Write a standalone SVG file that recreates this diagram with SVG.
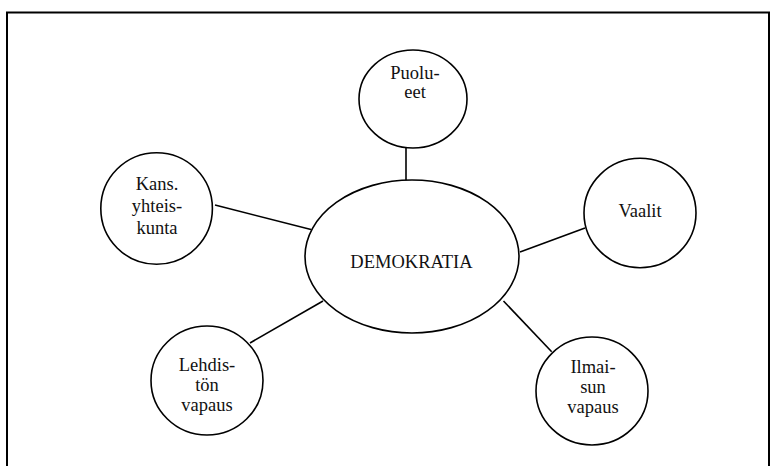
<svg xmlns="http://www.w3.org/2000/svg" width="771" height="466" viewBox="0 0 771 466">
<style>
.node ellipse{fill:#fff;stroke:#000;stroke-width:1.6}
.conn line{stroke:#000;stroke-width:1.6}
text{font-family:"Liberation Serif","Times New Roman",Tinos,"DejaVu Serif",serif;font-size:18.5px;fill:#111;text-anchor:middle}
</style>
<rect x="0" y="0" width="771" height="466" fill="#fff"/>
<rect id="frame" x="7" y="12.5" width="762" height="470" fill="none" stroke="#000" stroke-width="2"/>
<g id="connectors" class="conn">
<line x1="406" y1="142" x2="406" y2="183"/>
<line x1="215" y1="205" x2="311" y2="229.5"/>
<line x1="520" y1="252" x2="585" y2="228"/>
<line x1="323" y1="301" x2="250" y2="343"/>
<line x1="503.5" y1="301" x2="551.7" y2="351.7"/>
</g>
<g id="demokratia" class="node">
<ellipse cx="412" cy="256.5" rx="107" ry="76.5"/>
<text x="411.5" y="268">DEMOKRATIA</text>
</g>
<g id="puolueet" class="node">
<ellipse cx="413" cy="99" rx="54" ry="49"/>
<text x="415" y="79">Puolu-</text>
<text x="415" y="98">eet</text>
</g>
<g id="kans" class="node">
<ellipse cx="156.6" cy="208.5" rx="55.8" ry="55.8"/>
<text x="157" y="190">Kans.</text>
<text x="157" y="212">yhteis-</text>
<text x="157" y="234">kunta</text>
</g>
<g id="vaalit" class="node">
<ellipse cx="640" cy="213" rx="56" ry="54.7"/>
<text x="640" y="217">Vaalit</text>
</g>
<g id="lehdiston" class="node">
<ellipse cx="207" cy="380.5" rx="56" ry="54.5"/>
<text x="207" y="371">Lehdis-</text>
<text x="207" y="391">tön</text>
<text x="207" y="411">vapaus</text>
</g>
<g id="ilmaisun" class="node">
<ellipse cx="592" cy="391" rx="56" ry="54"/>
<text x="593" y="373">Ilmai-</text>
<text x="593" y="393">sun</text>
<text x="593" y="413">vapaus</text>
</g>
</svg>
